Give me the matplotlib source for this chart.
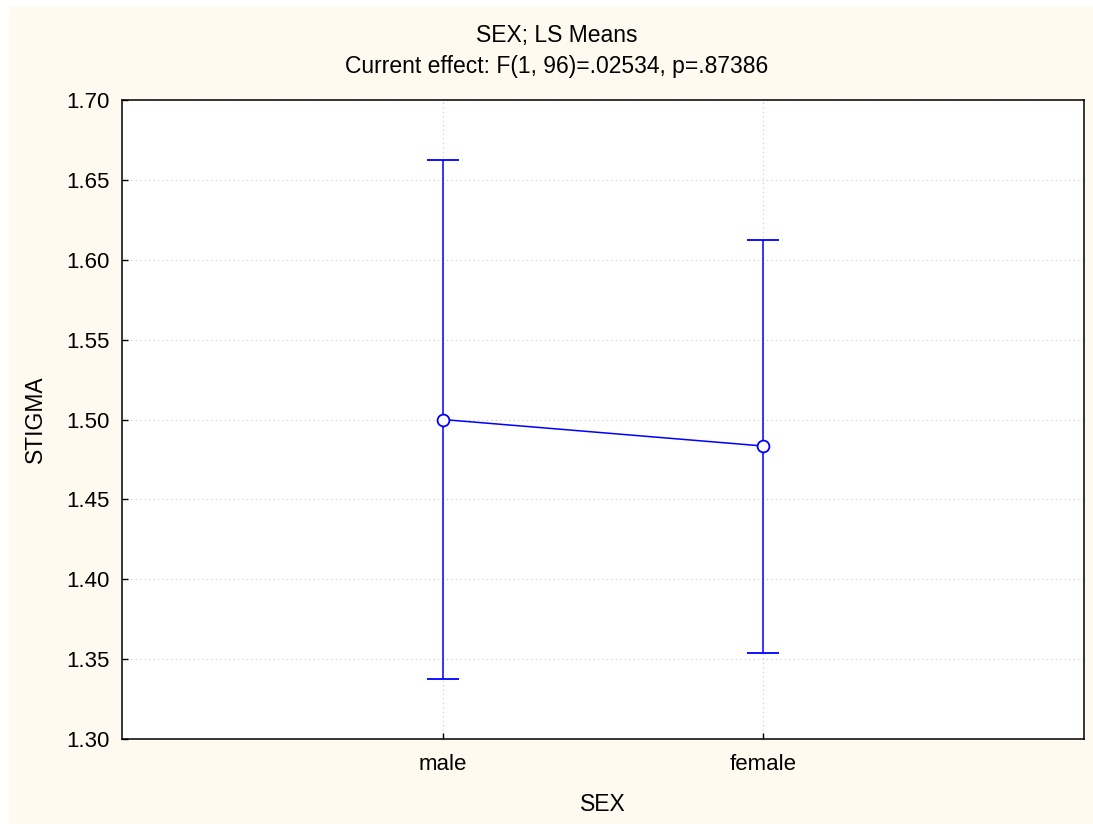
import matplotlib
matplotlib.use("Agg")
import matplotlib.pyplot as plt
from matplotlib.patches import Rectangle
import numpy as np

categories = ["male", "female"]
means = [1.500, 1.4834]
upper = [1.6624, 1.6124]
lower = [1.3376, 1.3538]
yticks = [1.30, 1.35, 1.40, 1.45, 1.50, 1.55, 1.60, 1.65, 1.70]

plt.rcParams['font.family'] = ['Liberation Sans', 'DejaVu Sans']

W, H = 1093, 824
fig = plt.figure(figsize=(W/100, H/100), dpi=100, facecolor='white')
fig.patches.append(Rectangle((9/W, 0), 1 - 9/W, 1 - 6/H, transform=fig.transFigure,
                             facecolor='#FFFAF0', edgecolor='none', zorder=-10))
ax = fig.add_axes([122/W, 1 - 739/H, (1084-122)/W, (739-100)/H])
ax.set_facecolor('white')

x = np.arange(len(categories))
m = np.array(means)
yerr = np.vstack([m - np.array(lower), np.array(upper) - m])
ax.errorbar(x, m, yerr=yerr, color='#0000FF', lw=1.1, elinewidth=1.1,
            capsize=11.5, capthick=1.1, marker='o', markersize=8.5,
            markerfacecolor='white', markeredgecolor='#0000FF', markeredgewidth=1.3, zorder=3)

ax.set_xlim(-1, 2)
ax.set_ylim(1.30, 1.70)
ax.set_xticks(x)
ax.set_xticklabels(categories)
ax.set_yticks(yticks)
ax.set_yticklabels([f"{v:.2f}" for v in yticks])
ax.tick_params(direction='in', length=4, width=1, labelsize=16)
ax.tick_params(axis='y', pad=9)
ax.tick_params(axis='x', pad=10.5)
ax.grid(True, color='#C8C8C8', linestyle=(0, (1, 3)), linewidth=0.8)
ax.set_axisbelow(True)
for s in ax.spines.values():
    s.set_linewidth(1.1)
    s.set_color('black')

ax.set_xlabel("SEX", fontsize=16.5, labelpad=13)
ax.set_ylabel("STIGMA", fontsize=16.5, labelpad=14)
fig.text(557/W, 1 - 42/H, "SEX; LS Means", ha='center', va='baseline', fontsize=16.5)
fig.text(557/W, 1 - 73/H, "Current effect: F(1, 96)=.02534, p=.87386", ha='center', va='baseline', fontsize=16.5)

fig.savefig("out.png", dpi=100, facecolor=fig.get_facecolor())
